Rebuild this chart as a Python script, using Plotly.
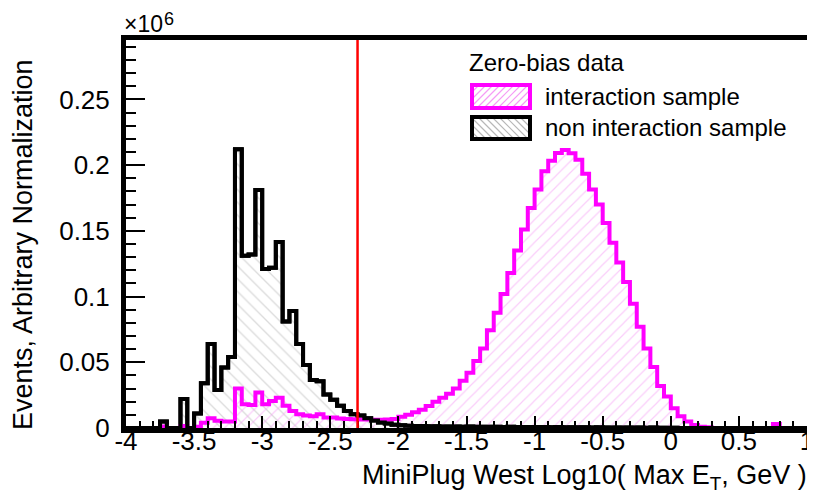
import plotly.graph_objects as go

# ---------------- data (event counts in units of 10^6) ----------------
X_MIN, X_MAX, BIN_W = -4.0, 1.0, 0.05
EDGES = [round(X_MIN + BIN_W * i, 4) for i in range(101)]

NON_INTERACTION = [
    0, 0, 0, 0, 0, 0.005, 0, 0, 0.022, 0,
    0.011, 0.034, 0.064, 0.029, 0.046, 0.054, 0.212, 0.131, 0.132, 0.181,
    0.121, 0.122, 0.1415, 0.081, 0.089, 0.064, 0.048, 0.0365, 0.0355, 0.0255,
    0.0215, 0.017, 0.013, 0.0105, 0.0095, 0.0075, 0.0058, 0.0042, 0.0035, 0.0025,
    0.0020, 0.0018, 0.0016, 0.0015, 0.0014, 0.0013, 0.0012, 0.0011, 0.0012, 0.0010,
    0.0011, 0.0010, 0.0009, 0.0010, 0.0009, 0.0008, 0.0009, 0.0008, 0.0008, 0.0007,
    0.0008, 0.0007, 0.0006, 0.0007, 0.0006, 0.0005, 0.0006, 0.0005, 0.0004, 0.0005,
    0.0004, 0.0004, 0.0003, 0.0004, 0.0003, 0.0003, 0.0002, 0.0003, 0.0002, 0.0002,
    0.0001, 0, 0, 0, 0, 0, 0, 0, 0, 0,
    0, 0, 0, 0, 0, 0, 0, 0, 0, 0,
]

INTERACTION = [
    0, 0, 0, 0, 0, 0.0012, 0, 0, 0.0015, 0,
    0.001, 0.004, 0.0075, 0.0055, 0.005, 0.005, 0.030, 0.018, 0.0175, 0.027,
    0.018, 0.0205, 0.023, 0.017, 0.013, 0.0105, 0.0095, 0.009, 0.0105, 0.008,
    0.008, 0.0072, 0.0068, 0.0066, 0.0065, 0.0064, 0.0063, 0.0063, 0.0064, 0.0068,
    0.0085, 0.010, 0.012, 0.0138, 0.0168, 0.020, 0.023, 0.026, 0.030, 0.036,
    0.042, 0.051, 0.0605, 0.0743, 0.0877, 0.102, 0.118, 0.135, 0.151, 0.1674,
    0.1814, 0.1953, 0.2034, 0.2092, 0.2115, 0.209, 0.204, 0.1935, 0.1815, 0.170,
    0.156, 0.141, 0.126, 0.111, 0.0945, 0.077, 0.0605, 0.0465, 0.032, 0.024,
    0.015, 0.009, 0.005, 0.0022, 0.001, 0.0005, 0, 0, 0, 0,
    0, 0, 0, 0, 0, 0.003, 0, 0, 0, 0,
]

CUT = -2.3
Y_MAX = 0.2952

X_TICKS = [-4, -3.5, -3, -2.5, -2, -1.5, -1, -0.5, 0, 0.5, 1]
X_TICK_LABELS = ["-4", "-3.5", "-3", "-2.5", "-2", "-1.5", "-1", "-0.5", "0", "0.5", "1"]
Y_TICKS = [0, 0.05, 0.1, 0.15, 0.2, 0.25]
Y_TICK_LABELS = ["0", "0.05", "0.1", "0.15", "0.2", "0.25"]

LEGEND_TITLE = "Zero-bias data"
NAME_INT = "interaction sample"
NAME_NON = "non interaction sample"

# ---------------- styling ----------------
# the page body has an 8px default margin, so the figure is drawn 8px in
OFF = 8
W, H = 815 - OFF, 499 - OFF
ML, MR, MT, MB = 126 - OFF, 8, 40 - OFF, 71
FONT = "Liberation Sans, Arial, sans-serif"
MAGENTA = "#ff00ff"
PINK_HATCH = "#f59cf5"
GRAY_HATCH = "#b8b8b8"

PW = W - ML - MR
PH = H - MT - MB


def px(xp):
    """window pixel x -> paper coordinate"""
    return (xp - OFF - ML) / PW


def py(yp):
    """window pixel y (downward) -> paper coordinate"""
    return (H - MB - (yp - OFF)) / PH


def step_y(vals):
    return list(vals) + [vals[-1]]


fig = go.Figure()

fig.add_trace(go.Scatter(
    x=EDGES, y=step_y(NON_INTERACTION), mode="lines", line_shape="hv",
    line=dict(color="black", width=4), fill="tozeroy",
    fillcolor="rgba(0,0,0,0)",
    fillpattern=dict(shape="\\", fgcolor=GRAY_HATCH, bgcolor="rgba(0,0,0,0)",
                     size=9, solidity=0.15),
    showlegend=False, hoverinfo="skip"))

fig.add_trace(go.Scatter(
    x=EDGES, y=step_y(INTERACTION), mode="lines", line_shape="hv",
    line=dict(color=MAGENTA, width=4), fill="tozeroy",
    fillcolor="rgba(0,0,0,0)",
    fillpattern=dict(shape="/", fgcolor=PINK_HATCH, bgcolor="rgba(0,0,0,0)",
                     size=8, solidity=0.15),
    showlegend=False, hoverinfo="skip"))

fig.add_trace(go.Scatter(
    x=EDGES, y=step_y(NON_INTERACTION), mode="lines", line_shape="hv",
    line=dict(color="black", width=4),
    showlegend=False, hoverinfo="skip"))

fig.add_vline(x=CUT, line_color="red", line_width=2.5)


# ---------------- legend drawn manually ----------------
def hatch_path(x0, y0, x1, y1, step, direction):
    segs = []
    h = y1 - y0
    k = x0 - h
    while k < x1:
        if direction == "/":
            ax, ay, bx, by = k, y1, k + h, y0
        else:
            ax, ay, bx, by = k, y0, k + h, y1
        if ax < x0:
            t = (x0 - ax) / (bx - ax)
            ax, ay = x0, ay + t * (by - ay)
        if bx > x1:
            t = (x1 - ax) / (bx - ax)
            bx, by = x1, ay + t * (by - ay)
        if bx > ax:
            segs.append(f"M{px(ax):.5f},{py(ay):.5f} L{px(bx):.5f},{py(by):.5f}")
        k += step
    return " ".join(segs)


legend_items = [
    (NAME_INT, MAGENTA, PINK_HATCH, "/", 85, 108),
    (NAME_NON, "black", GRAY_HATCH, "\\", 117, 139),
]
for name, lc, hc, d, ytop, ybot in legend_items:
    fig.add_shape(type="path", xref="paper", yref="paper",
                  path=hatch_path(472, ytop, 530, ybot, 7, d),
                  line=dict(color=hc, width=1.2))
    fig.add_shape(type="rect", xref="paper", yref="paper",
                  x0=px(472), x1=px(530), y0=py(ybot), y1=py(ytop),
                  line=dict(color=lc, width=4), fillcolor="rgba(0,0,0,0)")
    fig.add_annotation(text=name, xref="paper", yref="paper",
                       x=px(543), y=py((ytop + ybot) / 2),
                       xanchor="left", yanchor="middle", showarrow=False,
                       font=dict(family=FONT, size=24, color="black"))

fig.add_annotation(text=LEGEND_TITLE, xref="paper", yref="paper",
                   x=px(467), y=py(62), xanchor="left", yanchor="middle",
                   showarrow=False, font=dict(family=FONT, size=24, color="black"))

fig.add_annotation(text="MiniPlug West Log10( Max E<sub>T</sub>, GeV )",
                   xref="paper", yref="paper", x=px(809), y=py(477),
                   xanchor="right", yanchor="middle", showarrow=False,
                   font=dict(family=FONT, size=27, color="black"))
fig.add_annotation(text="Events, Arbitrary Normalization",
                   xref="paper", yref="paper", x=px(23), y=py(245),
                   xanchor="center", yanchor="middle", textangle=-90,
                   showarrow=False, font=dict(family=FONT, size=27, color="black"))
# axis multiplier ×10^6 (exponent as separate raised text)
fig.add_annotation(text="×10", xref="paper", yref="paper",
                   x=px(122), y=py(24), xanchor="left", yanchor="middle",
                   showarrow=False, font=dict(family=FONT, size=23, color="black"))
fig.add_annotation(text="6", xref="paper", yref="paper",
                   x=px(162), y=py(19.5), xanchor="left", yanchor="middle",
                   showarrow=False, font=dict(family=FONT, size=18, color="black"))

axis_common = dict(showline=True, linecolor="black", linewidth=5, mirror=True,
                   showgrid=False, zeroline=False, ticks="inside",
                   tickcolor="black", tickwidth=1.5, automargin=False,
                   tickfont=dict(family=FONT, size=26, color="black"))

fig.update_xaxes(range=[X_MIN, X_MAX], tickvals=X_TICKS, ticktext=X_TICK_LABELS,
                 ticklen=12, ticklabelstandoff=-14,
                 minor=dict(tick0=X_MIN, dtick=0.1, ticks="inside", ticklen=7,
                            tickwidth=1.5, tickcolor="black", showgrid=False),
                 **axis_common)
fig.update_yaxes(range=[0, Y_MAX], tickvals=Y_TICKS, ticktext=Y_TICK_LABELS,
                 ticklen=19, ticklabelstandoff=6,
                 minor=dict(tick0=0, dtick=0.01, ticks="inside", ticklen=10,
                            tickwidth=1.5, tickcolor="black", showgrid=False),
                 **axis_common)

fig.update_layout(width=W, height=H,
                  margin=dict(l=ML, r=MR, t=MT, b=MB, pad=0),
                  plot_bgcolor="white", paper_bgcolor="white",
                  font=dict(family=FONT, color="black"),
                  showlegend=False)

fig.write_html("out.html")
